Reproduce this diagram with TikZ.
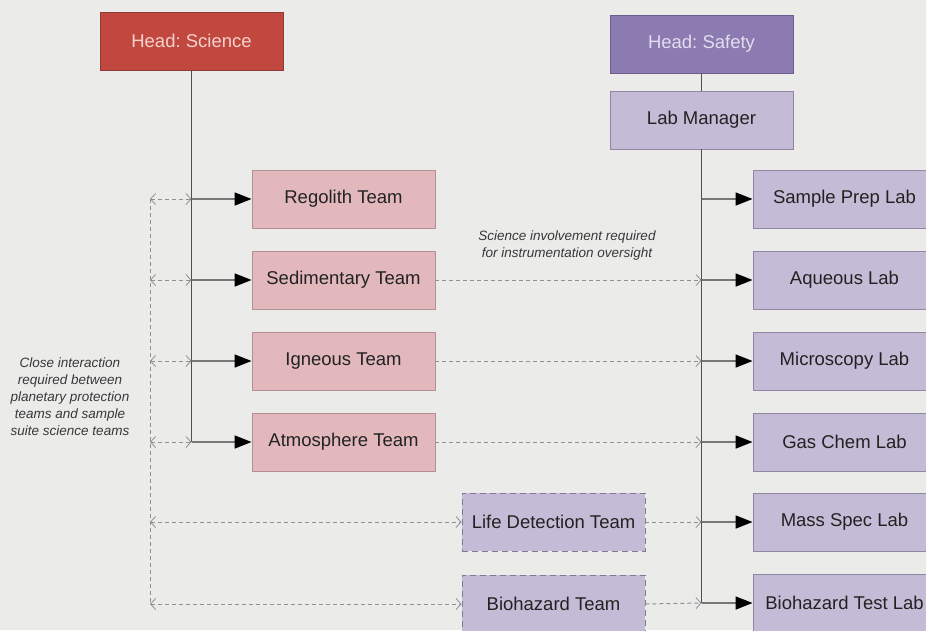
\documentclass[tikz,border=0pt]{standalone}
\usepackage{fontspec}
\setmainfont{Liberation Sans}
\frenchspacing
\usetikzlibrary{arrows.meta}
\definecolor{bg}{HTML}{EBEBEA}
\definecolor{scifill}{HTML}{C0483F}
\definecolor{scidraw}{HTML}{8E3A35}
\definecolor{scitext}{HTML}{F4D2CD}
\definecolor{saffill}{HTML}{8C7BB0}
\definecolor{safdraw}{HTML}{6C5D8C}
\definecolor{saftext}{HTML}{E4DCF0}
\definecolor{teamfill}{HTML}{E3B8BD}
\definecolor{teamdraw}{HTML}{B38E92}
\definecolor{labfill}{HTML}{C4BBD6}
\definecolor{labdraw}{HTML}{8F86A3}
\definecolor{txt}{HTML}{222222}
\definecolor{trunkc}{HTML}{505050}
\definecolor{linec}{HTML}{777777}
\definecolor{dashc}{HTML}{909090}
\definecolor{notec}{HTML}{383838}
\tikzset{
  box/.style={draw, line width=0.9pt, minimum width=183pt, minimum height=58pt, inner sep=2pt,
    font=\fontsize{18.5}{22}\selectfont, text=txt},
  headsci/.style={box, fill=scifill, draw=scidraw, text=scitext},
  headsaf/.style={box, fill=saffill, draw=safdraw, text=saftext},
  team/.style={box, fill=teamfill, draw=teamdraw},
  lab/.style={box, fill=labfill, draw=labdraw},
  pp/.style={box, fill=labfill, draw=labdraw!90!black, dash pattern=on 6pt off 4pt},
  trunk/.style={draw=trunkc, line width=1.2pt},
  solidarr/.style={draw=linec, line width=1.6pt, -{Triangle[length=17pt,width=13pt,fill=black,color=black]}},
  dashln/.style={draw=dashc, line width=1pt, dash pattern=on 4pt off 3pt},
  dasharr/.style={dashln, -{Straight Barb[length=5pt,width=11pt,line width=0.8pt]}},
  dblarr/.style={dashln, {Straight Barb[length=5pt,width=11pt,line width=0.8pt]}-{Straight Barb[length=5pt,width=11pt,line width=0.8pt]}},
  note/.style={align=center, text=notec, font=\fontsize{13.5}{17}\selectfont\itshape},
}
\begin{document}
\begin{tikzpicture}[x=1pt,y=-1pt]
\clip (0,0) rectangle (926,630);
\fill[bg] (0,0) rectangle (926,630);

% heads
\node[headsci] (sci) at (191.5,41) {Head: Science};
\node[headsaf] (saf) at (701.5,44) {Head: Safety};
\node[lab] (lm) at (701.5,120) {Lab Manager};

% teams
\node[team] (reg) at (343.5,199) {Regolith Team};
\node[team] (sed) at (343.5,280) {Sedimentary Team};
\node[team] (ign) at (343.5,361) {Igneous Team};
\node[team] (atm) at (343.5,442) {Atmosphere Team};
\node[pp] (life) at (553.5,522) {Life Detection Team};
\node[pp] (bio) at (553.5,604) {Biohazard Team};

% labs
\node[lab] (spl) at (844.5,199) {Sample Prep Lab};
\node[lab] (aq) at (844.5,280) {Aqueous Lab};
\node[lab] (mic) at (844.5,361) {Microscopy Lab};
\node[lab] (gas) at (844.5,442) {Gas Chem Lab};
\node[lab] (mass) at (844.5,522) {Mass Spec Lab};
\node[lab] (btl) at (844.5,603) {Biohazard Test Lab};

% junction coordinates
\coordinate (sj1) at (sci.south |- reg.west);
\coordinate (sj2) at (sci.south |- sed.west);
\coordinate (sj3) at (sci.south |- ign.west);
\coordinate (sj4) at (sci.south |- atm.west);
\coordinate (rj1) at (lm.south |- spl.west);
\coordinate (rj2) at (lm.south |- aq.west);
\coordinate (rj3) at (lm.south |- mic.west);
\coordinate (rj4) at (lm.south |- gas.west);
\coordinate (rj5) at (lm.south |- mass.west);
\coordinate (rj6) at (lm.south |- btl.west);
\coordinate (l1) at (150,199);
\coordinate (l2) at (150,280);
\coordinate (l3) at (150,361);
\coordinate (l4) at (150,442);
\coordinate (l5) at (150,522);
\coordinate (l6) at (150,604);

% trunks
\draw[trunk] (sci.south) -- (sj4);
\draw[trunk] (saf.south) -- (lm.north);
\draw[trunk] (lm.south) -- (rj6);

% left dashed interaction
\draw[dashln] (l1) -- (l6);
\draw[dblarr] (l1) -- (sj1);
\draw[dblarr] (l2) -- (sj2);
\draw[dblarr] (l3) -- (sj3);
\draw[dblarr] (l4) -- (sj4);
\draw[dblarr] (l5) -- (life.west);
\draw[dblarr] (l6) -- (bio.west);

% science to teams
\draw[solidarr] (sj1) -- (reg.west);
\draw[solidarr] (sj2) -- (sed.west);
\draw[solidarr] (sj3) -- (ign.west);
\draw[solidarr] (sj4) -- (atm.west);

% teams to labs
\draw[dasharr] (sed.east) -- (rj2);
\draw[dasharr] (ign.east) -- (rj3);
\draw[dasharr] (atm.east) -- (rj4);
\draw[dasharr] (life.east) -- (rj5);
\draw[dasharr] (bio.east) -- (rj6);

\draw[solidarr] (rj1) -- (spl.west);
\draw[solidarr] (rj2) -- (aq.west);
\draw[solidarr] (rj3) -- (mic.west);
\draw[solidarr] (rj4) -- (gas.west);
\draw[solidarr] (rj5) -- (mass.west);
\draw[solidarr] (rj6) -- (btl.west);

% notes
\node[note] (n1) at (567,246) {Science involvement required\\for instrumentation oversight};
\node[note] (n2) at (70,397) {Close interaction\\required between\\planetary protection\\teams and sample\\suite science teams};
\end{tikzpicture}
\end{document}
